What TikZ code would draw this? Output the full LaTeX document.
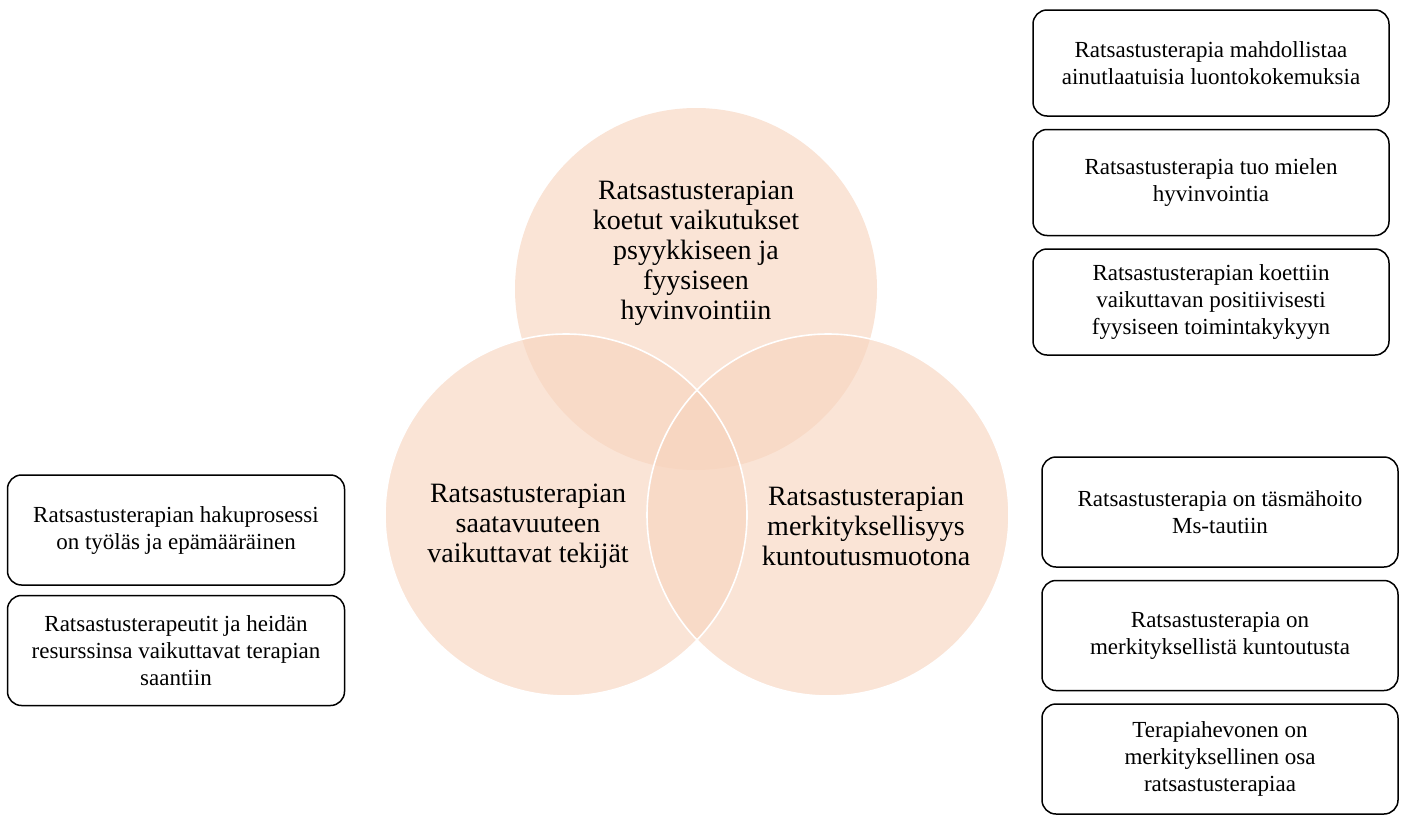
\documentclass[tikz,border=0pt]{standalone}
\usepackage{fontspec}
\setmainfont{Liberation Serif}
\usetikzlibrary{positioning}
\definecolor{peach}{RGB}{247,212,190}

\begin{document}
\begin{tikzpicture}[
    x=1pt, y=-1pt,
    node distance=12pt,
    venn/.style={
        circle,
        fill=peach,
        fill opacity=0.63,
        minimum size=362pt,
        inner sep=0pt
    },
    vennEdge/.style={draw=white, line width=1.6pt},
    vennText/.style={align=center, font=\fontsize{28}{30}\selectfont},
    box/.style={
        rectangle,
        draw,
        rounded corners=14pt,
        line width=1.5pt,
        minimum height=106pt,
        align=center,
        font=\fontsize{23}{27}\selectfont
    },
    rightBox/.style={box, minimum width=356pt},
    leftBox/.style={box, minimum width=337pt, minimum height=110pt}
]
    \useasboundingbox (0,0) rectangle (1402,814);

    % Venn circles
    \node[venn] (effects) at (696,289) {};
    \node[venn] (access) at (566,515) {};
    \node[venn] (meaning) at (828,515) {};
    \draw[vennEdge] (access.center) circle[radius=181pt];
    \draw[vennEdge] (meaning.center) circle[radius=181pt];

    \node[vennText] (effectsText) at (696,253) {Ratsastusterapian\\koetut vaikutukset\\psyykkiseen ja\\fyysiseen\\hyvinvointiin};
    \node[vennText] (accessText) at (528,526) {Ratsastusterapian\\saatavuuteen\\vaikuttavat tekijät};
    \node[vennText] (meaningText) at (866,526) {Ratsastusterapian\\merkityksellisyys\\kuntoutusmuotona};

    % Right boxes (top)
    \node[rightBox] (nature) at (1211,63) {Ratsastusterapia mahdollistaa\\ainutlaatuisia luontokokemuksia};
    \node[rightBox, below=of nature] (mind) {Ratsastusterapia tuo mielen\\hyvinvointia};
    \node[rightBox, below=of mind] (physical) {Ratsastusterapian koettiin\\vaikuttavan positiivisesti\\fyysiseen toimintakykyyn};

    % Right boxes (bottom)
    \node[rightBox, minimum height=110pt] (ms) at (1220,512) {Ratsastusterapia on täsmähoito\\Ms-tautiin};
    \node[rightBox, minimum height=110pt, below=of ms] (rehab) {Ratsastusterapia on\\merkityksellistä kuntoutusta};
    \node[rightBox, minimum height=110pt, below=of rehab] (horse) {Terapiahevonen on\\merkityksellinen osa\\ratsastusterapiaa};

    % Left boxes
    \node[leftBox] (process) at (176,530) {Ratsastusterapian hakuprosessi\\on työläs ja epämääräinen};
    \node[leftBox, below=9pt of process] (therapists) {Ratsastusterapeutit ja heidän\\resurssinsa vaikuttavat terapian\\saantiin};
\end{tikzpicture}
\end{document}
